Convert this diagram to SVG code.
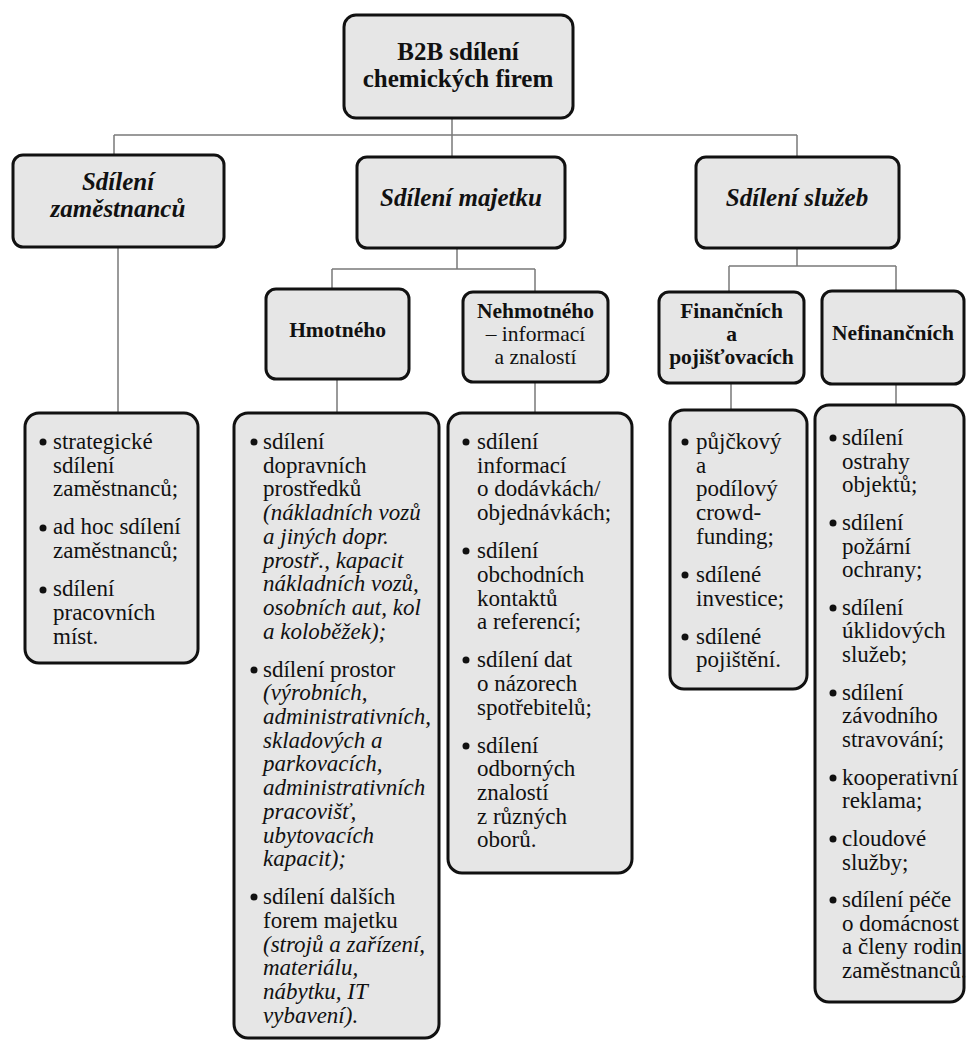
<svg xmlns="http://www.w3.org/2000/svg" width="966" height="1041" viewBox="0 0 966 1041" font-family="Liberation Serif, Times New Roman, Times, DejaVu Serif, Noto Serif, serif">
<style>
text{fill:#111}
.box{fill:#e6e6e6;stroke:#111;stroke-width:3}
.c{stroke:#7a7a7a;stroke-width:1.5;fill:none}
.root{font-size:25px;font-weight:bold;text-anchor:middle}
.l1{font-size:25px;font-weight:bold;font-style:italic;text-anchor:middle}
.l2{font-size:21.5px;font-weight:bold;text-anchor:middle}
.l2r{font-size:21.5px;font-weight:normal;text-anchor:middle}
.t{font-size:23px}
.i{font-style:italic}
.b{fill:#111}
</style>
<rect width="966" height="1041" fill="#fff"/>
<g id="connectors">
<path class="c" d="M452 118V157M114 135H797M114 135V155M797 135V157"/>
<path class="c" d="M457 248V269M332 269H535M332 269V289M535 269V292"/>
<path class="c" d="M797 248V266M729 266H896M729 266V292M896 266V291"/>
<path class="c" d="M118 247V413M337 379V413M535 382V413M731 383V410M896 384V405"/>
</g>
<g id="root">
<rect class="box" x="344" y="15" width="229" height="103" rx="12"/>
<text class="root" x="458" y="60">B2B sdílení</text>
<text class="root" x="458" y="87">chemických firem</text>
</g>
<g id="n-zamestnanci">
<rect class="box" x="13" y="155" width="211" height="92" rx="10"/>
<text class="l1" x="118" y="190">Sdílení</text>
<text class="l1" x="118" y="217">zaměstnanců</text>
</g>
<g id="n-majetek">
<rect class="box" x="357" y="157" width="208" height="91" rx="10"/>
<text class="l1" x="461" y="206">Sdílení majetku</text>
</g>
<g id="n-sluzby">
<rect class="box" x="696" y="157" width="203" height="91" rx="10"/>
<text class="l1" x="797" y="206">Sdílení služeb</text>
</g>
<g id="n-hmotneho">
<rect class="box" x="266" y="289" width="143" height="90" rx="10"/>
<text class="l2" x="337.5" y="337">Hmotného</text>
</g>
<g id="n-nehmotneho">
<rect class="box" x="463" y="292" width="145" height="90" rx="10"/>
<text class="l2" x="535.5" y="318">Nehmotného</text>
<text class="l2r" x="535.5" y="341">– informací</text>
<text class="l2r" x="535.5" y="364">a znalostí</text>
</g>
<g id="n-financnich">
<rect class="box" x="659" y="292" width="145" height="91" rx="10"/>
<text class="l2" x="731.5" y="318">Finančních</text>
<text class="l2" x="731.5" y="341">a</text>
<text class="l2" x="731.5" y="364">pojišťovacích</text>
</g>
<g id="n-nefinancnich">
<rect class="box" x="822" y="291" width="142" height="93" rx="10"/>
<text class="l2" x="893" y="340">Nefinančních</text>
</g>
<g id="leaf-zamestnanci">
<rect class="box" x="25" y="413" width="173" height="250" rx="14"/>
<circle class="b" cx="43" cy="442" r="3.5"/>
<circle class="b" cx="43" cy="528" r="3.5"/>
<circle class="b" cx="43" cy="590" r="3.5"/>
<text class="t" x="53" y="449">strategické<tspan x="53" dy="23.7">sdílení</tspan><tspan x="53" dy="23.7">zaměstnanců;</tspan><tspan x="53" dy="38">ad hoc sdílení</tspan><tspan x="53" dy="23.7">zaměstnanců;</tspan><tspan x="53" dy="38">sdílení</tspan><tspan x="53" dy="23.7">pracovních</tspan><tspan x="53" dy="23.7">míst.</tspan></text>
</g>
<g id="leaf-hmotneho">
<rect class="box" x="234" y="413" width="205" height="625" rx="14"/>
<circle class="b" cx="254" cy="442" r="3.5"/>
<circle class="b" cx="254" cy="670" r="3.5"/>
<circle class="b" cx="254" cy="897" r="3.5"/>
<text class="t" x="263" y="449">sdílení<tspan x="263" dy="23.7">dopravních</tspan><tspan x="263" dy="23.7">prostředků</tspan><tspan class="i" x="263" dy="23.7">(nákladních vozů</tspan><tspan class="i" x="263" dy="23.7">a jiných dopr.</tspan><tspan class="i" x="263" dy="23.7">prostř., kapacit</tspan><tspan class="i" x="263" dy="23.7">nákladních vozů,</tspan><tspan class="i" x="263" dy="23.7">osobních aut, kol</tspan><tspan class="i" x="263" dy="23.7">a koloběžek);</tspan><tspan x="263" dy="38">sdílení prostor</tspan><tspan class="i" x="263" dy="23.7">(výrobních,</tspan><tspan class="i" x="263" dy="23.7">administrativních,</tspan><tspan class="i" x="263" dy="23.7">skladových a</tspan><tspan class="i" x="263" dy="23.7">parkovacích,</tspan><tspan class="i" x="263" dy="23.7">administrativních</tspan><tspan class="i" x="263" dy="23.7">pracovišť,</tspan><tspan class="i" x="263" dy="23.7">ubytovacích</tspan><tspan class="i" x="263" dy="23.7">kapacit);</tspan><tspan x="263" dy="38">sdílení dalších</tspan><tspan x="263" dy="23.7">forem majetku</tspan><tspan class="i" x="263" dy="23.7">(strojů a zařízení,</tspan><tspan class="i" x="263" dy="23.7">materiálu,</tspan><tspan class="i" x="263" dy="23.7">nábytku, IT</tspan><tspan class="i" x="263" dy="23.7">vybavení).</tspan></text>
</g>
<g id="leaf-nehmotneho">
<rect class="box" x="448" y="413" width="184" height="460" rx="14"/>
<circle class="b" cx="466" cy="442" r="3.5"/>
<circle class="b" cx="466" cy="551" r="3.5"/>
<circle class="b" cx="466" cy="660" r="3.5"/>
<circle class="b" cx="466" cy="746" r="3.5"/>
<text class="t" x="477" y="449">sdílení<tspan x="477" dy="23.7">informací</tspan><tspan x="477" dy="23.7">o dodávkách/</tspan><tspan x="477" dy="23.7">objednávkách;</tspan><tspan x="477" dy="38">sdílení</tspan><tspan x="477" dy="23.7">obchodních</tspan><tspan x="477" dy="23.7">kontaktů</tspan><tspan x="477" dy="23.7">a referencí;</tspan><tspan x="477" dy="38">sdílení dat</tspan><tspan x="477" dy="23.7">o názorech</tspan><tspan x="477" dy="23.7">spotřebitelů;</tspan><tspan x="477" dy="38">sdílení</tspan><tspan x="477" dy="23.7">odborných</tspan><tspan x="477" dy="23.7">znalostí</tspan><tspan x="477" dy="23.7">z různých</tspan><tspan x="477" dy="23.7">oborů.</tspan></text>
</g>
<g id="leaf-financnich">
<rect class="box" x="670" y="410" width="137" height="279" rx="14"/>
<circle class="b" cx="685" cy="442" r="3.5"/>
<circle class="b" cx="685" cy="575" r="3.5"/>
<circle class="b" cx="685" cy="637" r="3.5"/>
<text class="t" x="696" y="449">půjčkový<tspan x="696" dy="23.7">a</tspan><tspan x="696" dy="23.7">podílový</tspan><tspan x="696" dy="23.7">crowd-</tspan><tspan x="696" dy="23.7">funding;</tspan><tspan x="696" dy="38">sdílené</tspan><tspan x="696" dy="23.7">investice;</tspan><tspan x="696" dy="38">sdílené</tspan><tspan x="696" dy="23.7">pojištění.</tspan></text>
</g>
<g id="leaf-nefinancnich">
<rect class="box" x="815" y="405" width="149" height="597" rx="14"/>
<circle class="b" cx="833" cy="438" r="3.5"/>
<circle class="b" cx="833" cy="523" r="3.5"/>
<circle class="b" cx="833" cy="608" r="3.5"/>
<circle class="b" cx="833" cy="693" r="3.5"/>
<circle class="b" cx="833" cy="778" r="3.5"/>
<circle class="b" cx="833" cy="839" r="3.5"/>
<circle class="b" cx="833" cy="900" r="3.5"/>
<text class="t" x="842" y="445">sdílení<tspan x="842" dy="23.6">ostrahy</tspan><tspan x="842" dy="23.6">objektů;</tspan><tspan x="842" dy="37.7">sdílení</tspan><tspan x="842" dy="23.6">požární</tspan><tspan x="842" dy="23.6">ochrany;</tspan><tspan x="842" dy="37.7">sdílení</tspan><tspan x="842" dy="23.6">úklidových</tspan><tspan x="842" dy="23.6">služeb;</tspan><tspan x="842" dy="37.7">sdílení</tspan><tspan x="842" dy="23.6">závodního</tspan><tspan x="842" dy="23.6">stravování;</tspan><tspan x="842" dy="37.7">kooperativní</tspan><tspan x="842" dy="23.6">reklama;</tspan><tspan x="842" dy="37.7">cloudové</tspan><tspan x="842" dy="23.6">služby;</tspan><tspan x="842" dy="37.7">sdílení péče</tspan><tspan x="842" dy="23.6">o domácnost</tspan><tspan x="842" dy="23.6">a členy rodin</tspan><tspan x="842" dy="23.6">zaměstnanců.</tspan></text>
</g>
</svg>
